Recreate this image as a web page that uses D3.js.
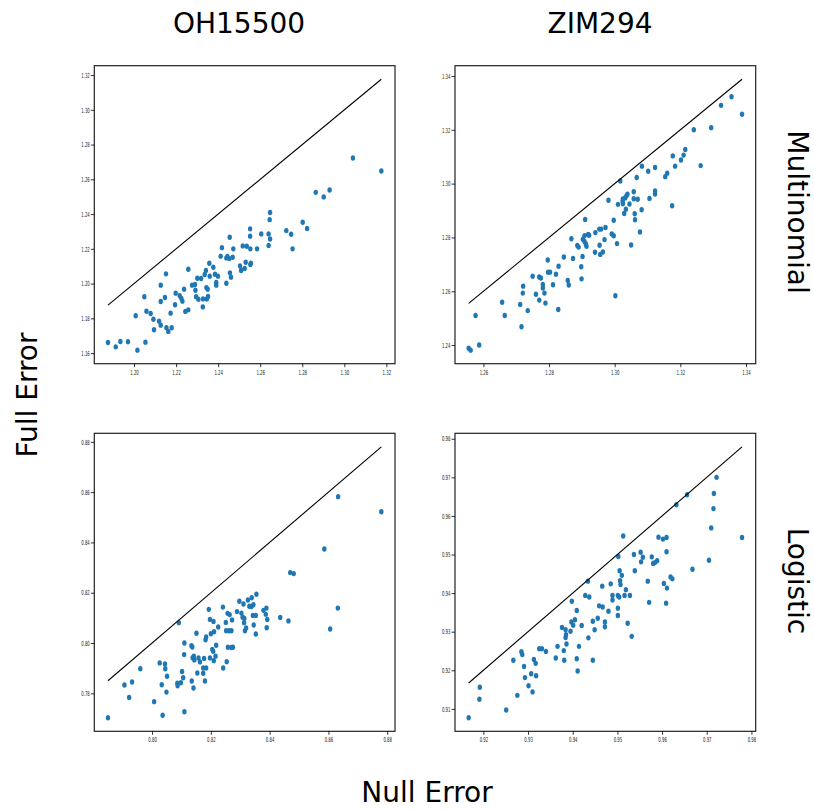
<!DOCTYPE html>
<html>
<head>
<meta charset="utf-8">
<script src="https://cdn.jsdelivr.net/npm/d3@7"></script>
<style>
  body { margin: 0; background: #fff; }
  svg { font-family: "DejaVu Sans", sans-serif; }
</style>
</head>
<body>
<svg id="chart" width="814" height="810"></svg>
<script>
// column / row names
const columns = ["OH15500", "ZIM294"];
const rows = ["Multinomial", "Logistic"];

// OH15500 - Multinomial
const ohMultiNull = [1.1876,1.1913,1.1935,1.1971,1.2008,1.2016,1.2049,1.2054,1.2059,1.2079,1.2092,1.2095,1.2119,1.2127,1.2127,1.2127,1.2147,1.2152,1.2154,1.2163,1.2174,1.2179,1.2195,1.2198,1.2217,1.2225,1.2230,1.2238,1.2244,1.2258,1.2258,1.2276,1.2290,1.2292,1.2295,1.2301,1.2306,1.2319,1.2327,1.2328,1.2336,1.2342,1.2344,1.2346,1.2350,1.2352,1.2358,1.2360,1.2377,1.2385,1.2391,1.2391,1.2399,1.2412,1.2418,1.2439,1.2439,1.2444,1.2453,1.2455,1.2456,1.2461,1.2469,1.2472,1.2504,1.2509,1.2517,1.2526,1.2531,1.2536,1.2552,1.2552,1.2553,1.2553,1.2556,1.2585,1.2605,1.2640,1.2640,1.2645,1.2647,1.2647,1.2724,1.2747,1.2754,1.2802,1.2823,1.2864,1.2902,1.2930,1.3041,1.3176];
const ohMultiFull = [1.1661,1.1636,1.1667,1.1665,1.1815,1.1617,1.1924,1.1663,1.1841,1.1828,1.1795,1.1734,1.1784,1.1991,1.1897,1.1761,1.1920,1.2056,1.1746,1.1725,1.1830,1.1746,1.1878,1.1945,1.1930,1.1914,1.1899,1.1968,1.1840,1.2083,1.1849,1.1991,1.1995,1.1962,1.1924,1.2031,1.1910,1.2029,1.1866,1.1912,1.2052,1.2075,1.1977,1.1912,1.1968,1.1926,1.2117,1.2043,1.2094,1.2054,1.1991,1.2006,1.2043,1.2158,1.2207,1.2002,1.2148,1.2156,1.2144,1.2267,1.2062,1.2037,1.2152,1.2200,1.2102,1.2075,1.2217,1.2087,1.2123,1.2215,1.2315,1.2273,1.2110,1.2200,1.2117,1.2200,1.2286,1.2286,1.2219,1.2368,1.2257,1.2409,1.2305,1.2284,1.2200,1.2353,1.2317,1.2525,1.2499,1.2539,1.2723,1.2648];

// ZIM294 - Multinomial
const zimMultiNull = [1.2555,1.2561,1.2576,1.2587,1.2657,1.2665,1.2712,1.2716,1.2720,1.2721,1.2735,1.2750,1.2760,1.2770,1.2770,1.2775,1.2781,1.2781,1.2786,1.2789,1.2796,1.2797,1.2803,1.2812,1.2821,1.2828,1.2829,1.2845,1.2857,1.2860,1.2868,1.2873,1.2886,1.2890,1.2898,1.2899,1.2902,1.2903,1.2908,1.2908,1.2910,1.2912,1.2914,1.2919,1.2922,1.2940,1.2941,1.2953,1.2954,1.2956,1.2959,1.2964,1.2969,1.2972,1.2981,1.2991,1.2997,1.2997,1.3002,1.3007,1.3010,1.3017,1.3024,1.3025,1.3025,1.3029,1.3032,1.3034,1.3036,1.3039,1.3045,1.3050,1.3058,1.3058,1.3061,1.3062,1.3067,1.3070,1.3077,1.3082,1.3083,1.3102,1.3106,1.3123,1.3123,1.3123,1.3154,1.3160,1.3175,1.3177,1.3184,1.3202,1.3210,1.3215,1.3241,1.3262,1.3294,1.3324,1.3356,1.3388];
const zimMultiFull = [1.2388,1.2381,1.2510,1.2400,1.2559,1.2510,1.2551,1.2468,1.2593,1.2619,1.2528,1.2656,1.2589,1.2567,1.2653,1.2649,1.2625,1.2612,1.2593,1.2556,1.2716,1.2671,1.2671,1.2624,1.2663,1.2532,1.2693,1.2727,1.2640,1.2623,1.2795,1.2722,1.2770,1.2764,1.2691,1.2646,1.2729,1.2793,1.2785,1.2806,1.2867,1.2776,1.2767,1.2811,1.2808,1.2745,1.2818,1.2831,1.2771,1.2737,1.2831,1.2746,1.2792,1.2837,1.2938,1.2813,1.2864,1.2806,1.2583,1.2777,1.2923,1.3010,1.2935,1.2943,1.2925,1.2889,1.2947,1.2905,1.2955,1.2961,1.2924,1.2772,1.2970,1.2944,1.2888,1.2866,1.3023,1.2942,1.2820,1.2903,1.3065,1.3046,1.2945,1.3060,1.2961,1.2973,1.3026,1.3039,1.2918,1.3103,1.3065,1.3088,1.3106,1.3127,1.3200,1.3067,1.3208,1.3291,1.3323,1.3258];

// OH15500 - Logistic
const ohLogNull = [0.7850,0.7906,0.7922,0.7932,0.7960,0.8007,0.8026,0.8033,0.8036,0.8044,0.8045,0.8049,0.8051,0.8086,0.8087,0.8091,0.8098,0.8102,0.8106,0.8109,0.8110,0.8110,0.8134,0.8135,0.8137,0.8138,0.8141,0.8142,0.8144,0.8151,0.8154,0.8158,0.8163,0.8174,0.8174,0.8177,0.8180,0.8182,0.8184,0.8184,0.8193,0.8197,0.8197,0.8200,0.8205,0.8208,0.8209,0.8210,0.8211,0.8216,0.8218,0.8225,0.8241,0.8242,0.8251,0.8252,0.8254,0.8257,0.8258,0.8262,0.8264,0.8270,0.8270,0.8272,0.8275,0.8289,0.8297,0.8304,0.8308,0.8311,0.8313,0.8314,0.8316,0.8320,0.8326,0.8331,0.8338,0.8339,0.8343,0.8345,0.8346,0.8353,0.8353,0.8355,0.8379,0.8387,0.8389,0.8390,0.8392,0.8436,0.8464,0.8470,0.8482,0.8586,0.8606,0.8632,0.8633,0.8780];
const ohLogFull = [0.7703,0.7833,0.7784,0.7845,0.7898,0.7767,0.7921,0.7834,0.7713,0.7917,0.7898,0.7805,0.7868,0.7840,0.7830,0.8081,0.7842,0.7887,0.7862,0.7954,0.8000,0.7727,0.7989,0.7849,0.7984,0.7942,0.7821,0.7948,0.7933,0.8039,0.7881,0.7941,0.7925,0.7901,0.7880,0.7939,0.7849,0.8013,0.8024,0.7901,0.8134,0.8094,0.7941,0.8037,0.7975,0.7967,0.8086,0.7930,0.8045,0.7948,0.7991,0.8064,0.8143,0.7901,0.8082,0.8049,0.7926,0.8118,0.7983,0.8049,0.8113,0.8049,0.7982,0.8092,0.7983,0.8125,0.8166,0.8119,0.8103,0.8155,0.8081,0.8098,0.8049,0.8060,0.8171,0.8146,0.8145,0.8180,0.8110,0.8152,0.8072,0.8110,0.8036,0.8194,0.8130,0.8114,0.8139,0.8061,0.8094,0.8102,0.8088,0.8280,0.8276,0.8374,0.8056,0.8139,0.8582,0.8522];

// ZIM294 - Logistic
const zimLogNull = [0.9167,0.9191,0.9192,0.9251,0.9267,0.9276,0.9285,0.9287,0.9291,0.9293,0.9301,0.9307,0.9310,0.9313,0.9317,0.9318,0.9325,0.9331,0.9340,0.9362,0.9366,0.9376,0.9380,0.9381,0.9384,0.9384,0.9385,0.9386,0.9395,0.9397,0.9398,0.9401,0.9405,0.9409,0.9409,0.9411,0.9414,0.9420,0.9428,0.9434,0.9435,0.9437,0.9445,0.9445,0.9449,0.9456,0.9459,0.9466,0.9467,0.9472,0.9472,0.9480,0.9485,0.9489,0.9489,0.9501,0.9501,0.9501,0.9502,0.9504,0.9505,0.9506,0.9507,0.9510,0.9513,0.9516,0.9519,0.9523,0.9528,0.9532,0.9537,0.9539,0.9552,0.9553,0.9557,0.9568,0.9571,0.9577,0.9580,0.9584,0.9589,0.9592,0.9602,0.9604,0.9610,0.9610,0.9611,0.9609,0.9619,0.9623,0.9632,0.9656,0.9668,0.9705,0.9710,0.9715,0.9716,0.9722,0.9779];
const zimLogFull = [0.9077,0.9125,0.9156,0.9097,0.9226,0.9135,0.9248,0.9241,0.9210,0.9181,0.9160,0.9191,0.9144,0.9228,0.9218,0.9186,0.9256,0.9256,0.9249,0.9232,0.9262,0.9311,0.9251,0.9226,0.9285,0.9305,0.9292,0.9268,0.9301,0.9325,0.9379,0.9317,0.9331,0.9355,0.9230,0.9198,0.9262,0.9316,0.9394,0.9431,0.9284,0.9390,0.9327,0.9226,0.9305,0.9335,0.9367,0.9418,0.9364,0.9325,0.9313,0.9353,0.9424,0.9394,0.9382,0.9342,0.9361,0.9394,0.9495,0.9390,0.9458,0.9432,0.9422,0.9446,0.9548,0.9394,0.9409,0.9322,0.9394,0.9288,0.9500,0.9458,0.9506,0.9481,0.9493,0.9431,0.9376,0.9494,0.9477,0.9479,0.9484,0.9545,0.9540,0.9425,0.9544,0.9507,0.9413,0.9374,0.9442,0.9437,0.9629,0.9655,0.9462,0.9485,0.9569,0.9619,0.9658,0.9700,0.9544];

// tick values per panel
const ohMultiXTicks = [1.20,1.22,1.24,1.26,1.28,1.30,1.32];
const ohMultiYTicks = [1.16,1.18,1.20,1.22,1.24,1.26,1.28,1.30,1.32];
const zimMultiXTicks = [1.26,1.28,1.30,1.32,1.34];
const zimMultiYTicks = [1.24,1.26,1.28,1.30,1.32,1.34];
const ohLogXTicks = [0.80,0.82,0.84,0.86,0.88];
const ohLogYTicks = [0.78,0.80,0.82,0.84,0.86,0.88];
const zimLogXTicks = [0.92,0.93,0.94,0.95,0.96,0.97,0.98];
const zimLogYTicks = [0.91,0.92,0.93,0.94,0.95,0.96,0.97,0.98];

const panels = [
    {row:0, col:0, nullErr:ohMultiNull,  fullErr:ohMultiFull,  xTicks:ohMultiXTicks,  yTicks:ohMultiYTicks},
    {row:0, col:1, nullErr:zimMultiNull, fullErr:zimMultiFull, xTicks:zimMultiXTicks, yTicks:zimMultiYTicks},
    {row:1, col:0, nullErr:ohLogNull,    fullErr:ohLogFull,    xTicks:ohLogXTicks,    yTicks:ohLogYTicks},
    {row:1, col:1, nullErr:zimLogNull,   fullErr:zimLogFull,   xTicks:zimLogXTicks,   yTicks:zimLogYTicks}
];

const layout = {
    left: [94.3, 455],
    top: [65.7, 433.3],
    width: 300.7,
    height: 298
};
const SQUEEZE = 0.55;   // tick labels are rendered very narrow in the original

// matplotlib-style 5% padding
function padded(ext){
    let span = ext[1] - ext[0];
    return [ext[0] - span * 0.05, ext[1] + span * 0.05];
}

const svg = d3.select("#chart");
const fmt = d3.format(".2f");

panels.forEach(function(p){
    let g = svg.append("g")
        .attr("transform", "translate(" + layout.left[p.col] + "," + layout.top[p.row] + ")");

    let xExt = d3.extent(p.nullErr);
    let yExt = d3.extent(p.fullErr.concat(xExt));
    let x = d3.scaleLinear().domain(padded(xExt)).range([0, layout.width]);
    let y = d3.scaleLinear().domain(padded(yExt)).range([layout.height, 0]);

    // points
    g.append("g")
        .selectAll("ellipse")
        .data(d3.zip(p.nullErr, p.fullErr))
        .enter()
        .append("ellipse")
        .attr("cx", d => x(d[0]))
        .attr("cy", d => y(d[1]))
        .attr("rx", 2.2)
        .attr("ry", 2.7)
        .attr("fill", "#1f77b4");

    // y = x reference line
    g.append("line")
        .attr("x1", x(xExt[0])).attr("y1", y(xExt[0]))
        .attr("x2", x(xExt[1])).attr("y2", y(xExt[1]))
        .attr("stroke", "#000")
        .attr("stroke-width", 1.1);

    // frame
    g.append("rect")
        .attr("width", layout.width)
        .attr("height", layout.height)
        .attr("fill", "none")
        .attr("stroke", "#222")
        .attr("stroke-width", 1.2);

    let xAxis = d3.axisBottom(x).tickValues(p.xTicks).tickFormat(fmt).tickSize(3.5).tickPadding(2.5);
    let yAxis = d3.axisLeft(y).tickValues(p.yTicks).tickFormat(fmt).tickSize(3.5).tickPadding(1);

    let gx = g.append("g")
        .attr("transform", "translate(0," + layout.height + ")")
        .call(xAxis);
    let gy = g.append("g").call(yAxis);

    [gx, gy].forEach(function(ax){
        ax.select(".domain").remove();
        ax.selectAll("line").attr("stroke", "#000").attr("stroke-width", 0.8);
        ax.selectAll("text")
            .attr("fill", "#222")
            .style("font-size", "7px")
            .style("font-family", "'DejaVu Sans', sans-serif");
    });
    gx.selectAll("text").attr("transform", "scale(" + SQUEEZE + ",1)");
    gy.selectAll("text")
        .attr("x", -4.5 / SQUEEZE)
        .attr("transform", "scale(" + SQUEEZE + ",1)");
});

// column titles
const colCenters = [239, 600];
svg.selectAll(".col-title")
    .data(columns)
    .enter()
    .append("text")
    .attr("class", "col-title")
    .attr("x", (d, i) => colCenters[i])
    .attr("y", 33)
    .attr("text-anchor", "middle")
    .style("font-size", "28px")
    .text(d => d);

// row titles on the right, reading top to bottom
const rowCenters = [212, 581];
svg.selectAll(".row-title")
    .data(rows)
    .enter()
    .append("text")
    .attr("class", "row-title")
    .attr("transform", (d, i) => "translate(788," + rowCenters[i] + ") rotate(90)")
    .attr("text-anchor", "middle")
    .style("font-size", "28px")
    .text(d => d);

// shared axis labels
svg.append("text")
    .attr("transform", "translate(37,395) rotate(-90)")
    .attr("text-anchor", "middle")
    .style("font-size", "28px")
    .text("Full Error");

svg.append("text")
    .attr("x", 427)
    .attr("y", 802)
    .attr("text-anchor", "middle")
    .style("font-size", "28px")
    .text("Null Error");
</script>
</body>
</html>
